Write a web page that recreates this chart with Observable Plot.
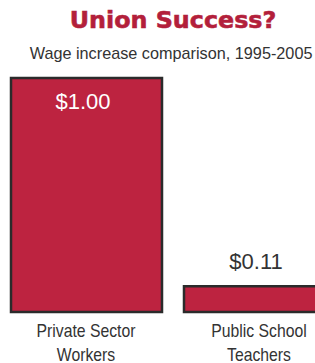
<!DOCTYPE html>
<html>
<head>
<meta charset="utf-8">
<script src="https://cdn.jsdelivr.net/npm/d3@7"></script>
<script src="https://cdn.jsdelivr.net/npm/@observablehq/plot@0.6"></script>
<style>
  html, body { margin: 0; padding: 0; background: #fff; width: 315px; height: 363px; overflow: hidden; }
  #header { position: relative; width: 315px; height: 66px; }
  .hline { position: absolute; left: 0; width: 315px; box-sizing: border-box; text-align: center; line-height: 1; white-space: nowrap; }
  #title { top: 8.5px; padding-left: 31px; font-family: "DejaVu Sans", sans-serif; font-weight: bold; font-size: 23.8px; color: #b31f3b; -webkit-text-stroke: 0.6px #b31f3b; }
  #subtitle { top: 44.9px; padding-left: 23px; font-family: "Liberation Sans", Arial, sans-serif; font-size: 17px; color: #333; }
  #subtitle span { display: inline-block; transform: scaleX(0.955); transform-origin: center; }
  #chart svg { display: block; }
</style>
</head>
<body>
<div id="header">
  <div id="title" class="hline">Union Success?</div>
  <div id="subtitle" class="hline"><span>Wage increase comparison, 1995-2005</span></div>
</div>
<div id="chart"></div>
<script>
const categories = ["Private Sector\nWorkers", "Public School\nTeachers"];
const wageIncrease = [1.00, 0.11];
const valueLabels = ["$1.00", "$0.11"];

const data = categories.map((c, i) => ({category: c, value: wageIncrease[i], label: valueLabels[i]}));

const plot = Plot.plot({
  width: 315,
  height: 297,
  margin: 0,
  style: {fontFamily: "Liberation Sans, Arial, sans-serif", overflow: "hidden"},
  x: {domain: categories, range: [10.5, 334.5], paddingInner: 22 / 173, paddingOuter: 0, axis: null},
  y: {domain: [0, 1], range: [246, 12], axis: null},
  marks: [
    Plot.barY(data, {x: "category", y: "value", fill: "#bd2340", stroke: "#2b2b2b", strokeWidth: 2.5}),
    Plot.text(data.filter(d => d.value > 0.5), {x: "category", y: "value", text: "label", fill: "white", fontSize: 22, lineAnchor: "top", dy: 14.7, dx: -4}),
    Plot.text(data.filter(d => d.value <= 0.5), {x: "category", y: "value", text: "label", fill: "#333", fontSize: 22, lineAnchor: "bottom", dy: -17.5, dx: -4}),
    Plot.text(data, {x: "category", y: () => 0, text: "category", fill: "#333", fontSize: 18, lineHeight: 1.36, lineAnchor: "top", dy: 7, dx: -1})
  ]
});

// condense the category labels horizontally around their own anchor
const flat = categories.map(c => c.replace(/\n/g, ""));
plot.querySelectorAll("text").forEach(t => {
  if (!flat.includes(t.textContent)) return;
  const tr = t.getAttribute("transform");
  const x = t.getAttribute("x");
  if (tr) {
    t.setAttribute("transform", tr + " scale(0.876,1)");
  } else if (x != null) {
    const xv = +x;
    t.setAttribute("transform", `translate(${xv},0) scale(0.876,1) translate(${-xv},0)`);
  }
});

document.getElementById("chart").appendChild(plot);
</script>
</body>
</html>
